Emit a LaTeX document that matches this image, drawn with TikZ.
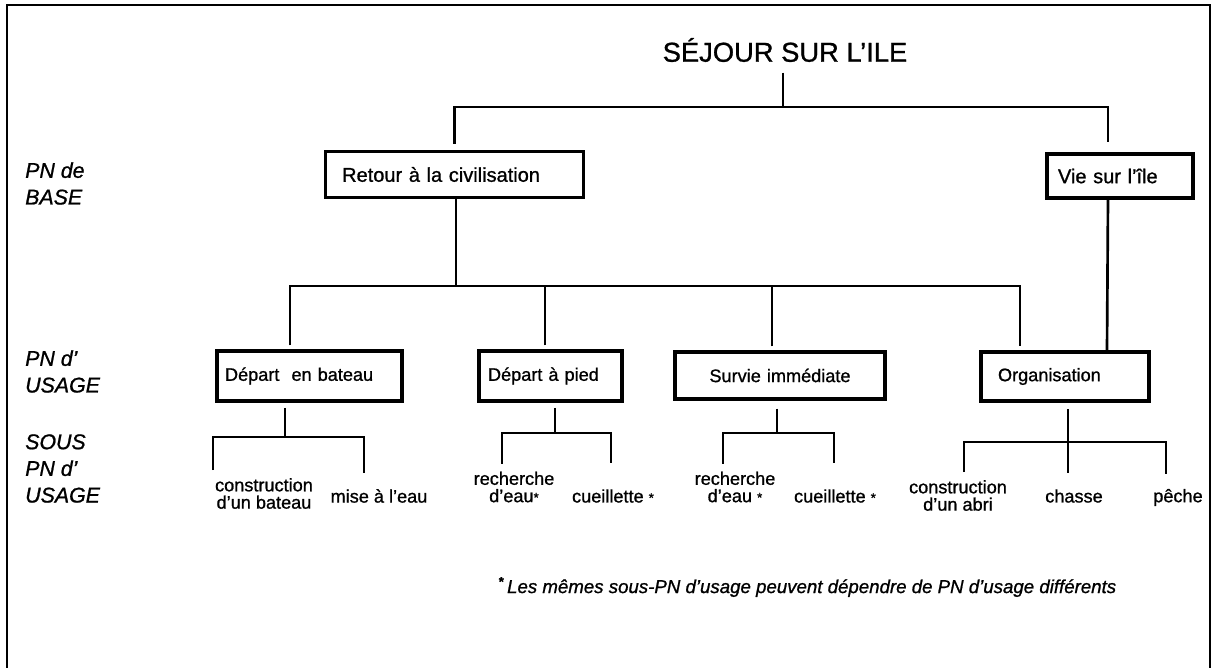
\documentclass[tikz,border=0pt]{standalone}
\usepackage{fontspec}
\setmainfont{Liberation Sans}[FakeBold=1]
\newcommand{\fnmark}{{\fontsize{10}{10}\selectfont*}}
\begin{document}
\begin{tikzpicture}[
    x=0.75pt, y=-0.75pt,
    basebox/.style={draw, line width=2.3pt, align=left, inner ysep=0pt, font=\fontsize{15}{17}\selectfont},
    usebox/.style={draw, line width=2.3pt, align=left, inner ysep=0pt, font=\fontsize{13.6}{15}\selectfont},
    leaf/.style={align=center, inner sep=0pt, minimum height=34.5pt, font=\fontsize{13.6}{13}\selectfont},
    level/.style={anchor=west, align=left, inner sep=0pt, font=\itshape\fontsize{16}{20}\selectfont},
    link/.style={line width=2pt}
]
    \useasboundingbox (0,0) rectangle (1215,668);
    \draw[line width=1.6pt] (7,668) -- (7,5) -- (1210,5) -- (1210,668);

    % Levels
    \node[level] (lbase) at (25,183.5) {PN de\\BASE};
    \node[level] (lusage) at (25,371.5) {PN d’\\USAGE};
    \node[level] (lsous) at (25,468.5) {SOUS\\PN d’\\USAGE};

    % Title and base PN
    \node[font=\fontsize{20.5}{24}\selectfont] (title) at (785,50) {SÉJOUR SUR L’ILE};
    \node[basebox, text width=168.5pt, inner xsep=12.75pt, minimum height=34pt] (ret) at (454.5,174.5) {Retour à la civilisation};
    \node[basebox, text width=93pt, inner xsep=8.25pt, minimum height=33pt] (vie) at (1120,176) {Vie sur l’île};

    % Usage PN
    \node[usebox, text width=126.75pt, inner xsep=6pt, minimum height=37.5pt] (dpb) at (309.5,376) {Départ\ \ en bateau};
    \node[usebox, text width=93.75pt, inner xsep=6.75pt, minimum height=37.5pt] (dpp) at (550.5,376) {Départ à pied};
    \node[usebox, align=center, text width=145.5pt, inner xsep=6pt, minimum height=35.25pt] (svi) at (780,375.5) {Survie immédiate};
    \node[usebox, text width=100.5pt, inner xsep=12.75pt, minimum height=36.75pt] (org) at (1065,376.5) {Organisation};

    % Sub-usage PN
    \node[leaf] (cb) at (264,493.5) {construction\\d’un bateau};
    \node[leaf] (me) at (379,496) {mise à l’eau};
    \node[leaf] (re1) at (514,487) {recherche\\d’eau\fnmark};
    \node[leaf, minimum height=49pt] (cu1) at (613,496) {cueillette \fnmark};
    \node[leaf] (re2) at (735,487) {recherche\\d’eau \fnmark};
    \node[leaf, minimum height=49pt] (cu2) at (835,496) {cueillette \fnmark};
    \node[leaf] (ca) at (958,495.5) {construction\\d’un abri};
    \node[leaf] (ch) at (1074,496) {chasse};
    \node[leaf] (pe) at (1178,497.5) {pêche};

    \node[anchor=west, inner sep=0pt, font=\itshape\fontsize{14}{16}\selectfont] (note) at (498,587) {\textsuperscript{\bfseries*}\,Les mêmes sous-PN d’usage peuvent dépendre de PN d’usage différents};

    % Base level links
    \coordinate (t0) at (783,107);
    \draw[link, shorten <=4.5pt] (title.south -| t0) -- (t0);
    \draw[link, shorten <=5pt, shorten >=8pt] (ret.north) |- (t0) -| ([xshift=-9pt]vie.north);

    % Usage level links
    \coordinate (j1) at (456,286);
    \draw[link] (ret.south -| j1) -- (j1);
    \draw[link, shorten <=3pt, shorten >=3pt] (dpb.north -| 290,0) |- (j1) -| (org.north -| 1020,0);
    \foreach \n/\x in {dpp/545, svi/772}
        \draw[link, shorten <=3pt] (\n.north -| \x,0) -- (j1 -| \x,0);
    \draw[link] ([xshift=-9pt]vie.south) -- (org.north -| 1107,0);

    % Sub-usage links
    \coordinate (kb) at (285,437);
    \draw[link, shorten <=4pt] (dpb.south -| kb) -- (kb);
    \draw[link] (cb.north -| 213,0) |- (kb) -| (me.north -| 364,0);
    \coordinate (kp) at (555,433);
    \draw[link, shorten <=4pt] (dpp.south -| kp) -- (kp);
    \draw[link] (re1.north -| 502,0) |- (kp) -| (cu1.north -| 611,0);
    \coordinate (ks) at (777,433);
    \draw[link, shorten <=6pt] (svi.south -| ks) -- (ks);
    \draw[link] (re2.north -| 723,0) |- (ks) -| (cu2.north -| 834,0);
    \coordinate (ko) at (1068,442);
    \draw[link, shorten <=5pt] (org.south -| ko) -- (ko);
    \draw[link] (ca.north -| 964,0) |- (ko) -| (pe.north -| 1166,0);
    \draw[link] (ch.north -| ko) -- (ko);
\end{tikzpicture}
\end{document}
